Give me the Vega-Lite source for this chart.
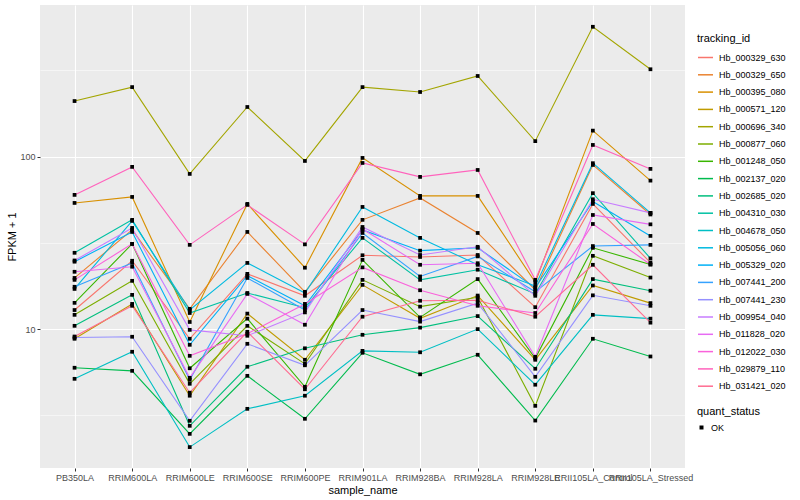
{
"$schema": "https://vega.github.io/schema/vega-lite/v6.json",
"autosize": {"type": "none"},
"padding": {"left": 40, "top": 5, "right": 115, "bottom": 32},
"width": 645,
"height": 463,
"background": "#FFFFFF",
"datasets": {"d": [
{"tracking_id":"Hb_000329_630","sample_name":"PB350LA","FPKM_plus_1":12.9,"quant_status":"OK"},
{"tracking_id":"Hb_000329_630","sample_name":"RRIM600LA","FPKM_plus_1":24.9,"quant_status":"OK"},
{"tracking_id":"Hb_000329_630","sample_name":"RRIM600LE","FPKM_plus_1":8.79,"quant_status":"OK"},
{"tracking_id":"Hb_000329_630","sample_name":"RRIM600SE","FPKM_plus_1":20.9,"quant_status":"OK"},
{"tracking_id":"Hb_000329_630","sample_name":"RRIM600PE","FPKM_plus_1":15.6,"quant_status":"OK"},
{"tracking_id":"Hb_000329_630","sample_name":"RRIM901LA","FPKM_plus_1":26.8,"quant_status":"OK"},
{"tracking_id":"Hb_000329_630","sample_name":"RRIM928BA","FPKM_plus_1":26.2,"quant_status":"OK"},
{"tracking_id":"Hb_000329_630","sample_name":"RRIM928LA","FPKM_plus_1":26.9,"quant_status":"OK"},
{"tracking_id":"Hb_000329_630","sample_name":"RRIM928LE","FPKM_plus_1":13.4,"quant_status":"OK"},
{"tracking_id":"Hb_000329_630","sample_name":"RRII105LA_Control","FPKM_plus_1":53.2,"quant_status":"OK"},
{"tracking_id":"Hb_000329_630","sample_name":"RRII105LA_Stressed","FPKM_plus_1":24.3,"quant_status":"OK"},
{"tracking_id":"Hb_000329_650","sample_name":"PB350LA","FPKM_plus_1":19.8,"quant_status":"OK"},
{"tracking_id":"Hb_000329_650","sample_name":"RRIM600LA","FPKM_plus_1":37.6,"quant_status":"OK"},
{"tracking_id":"Hb_000329_650","sample_name":"RRIM600LE","FPKM_plus_1":13.1,"quant_status":"OK"},
{"tracking_id":"Hb_000329_650","sample_name":"RRIM600SE","FPKM_plus_1":36.6,"quant_status":"OK"},
{"tracking_id":"Hb_000329_650","sample_name":"RRIM600PE","FPKM_plus_1":16.45,"quant_status":"OK"},
{"tracking_id":"Hb_000329_650","sample_name":"RRIM901LA","FPKM_plus_1":43.0,"quant_status":"OK"},
{"tracking_id":"Hb_000329_650","sample_name":"RRIM928BA","FPKM_plus_1":57.6,"quant_status":"OK"},
{"tracking_id":"Hb_000329_650","sample_name":"RRIM928LA","FPKM_plus_1":36.1,"quant_status":"OK"},
{"tracking_id":"Hb_000329_650","sample_name":"RRIM928LE","FPKM_plus_1":16.9,"quant_status":"OK"},
{"tracking_id":"Hb_000329_650","sample_name":"RRII105LA_Control","FPKM_plus_1":89.5,"quant_status":"OK"},
{"tracking_id":"Hb_000329_650","sample_name":"RRII105LA_Stressed","FPKM_plus_1":46.2,"quant_status":"OK"},
{"tracking_id":"Hb_000395_080","sample_name":"PB350LA","FPKM_plus_1":53.9,"quant_status":"OK"},
{"tracking_id":"Hb_000395_080","sample_name":"RRIM600LA","FPKM_plus_1":58.4,"quant_status":"OK"},
{"tracking_id":"Hb_000395_080","sample_name":"RRIM600LE","FPKM_plus_1":11.0,"quant_status":"OK"},
{"tracking_id":"Hb_000395_080","sample_name":"RRIM600SE","FPKM_plus_1":53.2,"quant_status":"OK"},
{"tracking_id":"Hb_000395_080","sample_name":"RRIM600PE","FPKM_plus_1":22.7,"quant_status":"OK"},
{"tracking_id":"Hb_000395_080","sample_name":"RRIM901LA","FPKM_plus_1":98.3,"quant_status":"OK"},
{"tracking_id":"Hb_000395_080","sample_name":"RRIM928BA","FPKM_plus_1":59.2,"quant_status":"OK"},
{"tracking_id":"Hb_000395_080","sample_name":"RRIM928LA","FPKM_plus_1":59.2,"quant_status":"OK"},
{"tracking_id":"Hb_000395_080","sample_name":"RRIM928LE","FPKM_plus_1":18.7,"quant_status":"OK"},
{"tracking_id":"Hb_000395_080","sample_name":"RRII105LA_Control","FPKM_plus_1":141.5,"quant_status":"OK"},
{"tracking_id":"Hb_000395_080","sample_name":"RRII105LA_Stressed","FPKM_plus_1":72.6,"quant_status":"OK"},
{"tracking_id":"Hb_000571_120","sample_name":"PB350LA","FPKM_plus_1":8.79,"quant_status":"OK"},
{"tracking_id":"Hb_000571_120","sample_name":"RRIM600LA","FPKM_plus_1":14.0,"quant_status":"OK"},
{"tracking_id":"Hb_000571_120","sample_name":"RRIM600LE","FPKM_plus_1":4.11,"quant_status":"OK"},
{"tracking_id":"Hb_000571_120","sample_name":"RRIM600SE","FPKM_plus_1":12.3,"quant_status":"OK"},
{"tracking_id":"Hb_000571_120","sample_name":"RRIM600PE","FPKM_plus_1":6.64,"quant_status":"OK"},
{"tracking_id":"Hb_000571_120","sample_name":"RRIM901LA","FPKM_plus_1":18.05,"quant_status":"OK"},
{"tracking_id":"Hb_000571_120","sample_name":"RRIM928BA","FPKM_plus_1":11.55,"quant_status":"OK"},
{"tracking_id":"Hb_000571_120","sample_name":"RRIM928LA","FPKM_plus_1":15.65,"quant_status":"OK"},
{"tracking_id":"Hb_000571_120","sample_name":"RRIM928LE","FPKM_plus_1":6.64,"quant_status":"OK"},
{"tracking_id":"Hb_000571_120","sample_name":"RRII105LA_Control","FPKM_plus_1":17.9,"quant_status":"OK"},
{"tracking_id":"Hb_000571_120","sample_name":"RRII105LA_Stressed","FPKM_plus_1":14.15,"quant_status":"OK"},
{"tracking_id":"Hb_000696_340","sample_name":"PB350LA","FPKM_plus_1":210,"quant_status":"OK"},
{"tracking_id":"Hb_000696_340","sample_name":"RRIM600LA","FPKM_plus_1":253,"quant_status":"OK"},
{"tracking_id":"Hb_000696_340","sample_name":"RRIM600LE","FPKM_plus_1":79.4,"quant_status":"OK"},
{"tracking_id":"Hb_000696_340","sample_name":"RRIM600SE","FPKM_plus_1":194,"quant_status":"OK"},
{"tracking_id":"Hb_000696_340","sample_name":"RRIM600PE","FPKM_plus_1":94.4,"quant_status":"OK"},
{"tracking_id":"Hb_000696_340","sample_name":"RRIM901LA","FPKM_plus_1":253,"quant_status":"OK"},
{"tracking_id":"Hb_000696_340","sample_name":"RRIM928BA","FPKM_plus_1":237,"quant_status":"OK"},
{"tracking_id":"Hb_000696_340","sample_name":"RRIM928LA","FPKM_plus_1":293.5,"quant_status":"OK"},
{"tracking_id":"Hb_000696_340","sample_name":"RRIM928LE","FPKM_plus_1":123,"quant_status":"OK"},
{"tracking_id":"Hb_000696_340","sample_name":"RRII105LA_Control","FPKM_plus_1":566,"quant_status":"OK"},
{"tracking_id":"Hb_000696_340","sample_name":"RRII105LA_Stressed","FPKM_plus_1":321,"quant_status":"OK"},
{"tracking_id":"Hb_000877_060","sample_name":"PB350LA","FPKM_plus_1":12.1,"quant_status":"OK"},
{"tracking_id":"Hb_000877_060","sample_name":"RRIM600LA","FPKM_plus_1":19.05,"quant_status":"OK"},
{"tracking_id":"Hb_000877_060","sample_name":"RRIM600LE","FPKM_plus_1":4.82,"quant_status":"OK"},
{"tracking_id":"Hb_000877_060","sample_name":"RRIM600SE","FPKM_plus_1":10.45,"quant_status":"OK"},
{"tracking_id":"Hb_000877_060","sample_name":"RRIM600PE","FPKM_plus_1":6.29,"quant_status":"OK"},
{"tracking_id":"Hb_000877_060","sample_name":"RRIM901LA","FPKM_plus_1":19.3,"quant_status":"OK"},
{"tracking_id":"Hb_000877_060","sample_name":"RRIM928BA","FPKM_plus_1":13.5,"quant_status":"OK"},
{"tracking_id":"Hb_000877_060","sample_name":"RRIM928LA","FPKM_plus_1":15.3,"quant_status":"OK"},
{"tracking_id":"Hb_000877_060","sample_name":"RRIM928LE","FPKM_plus_1":3.59,"quant_status":"OK"},
{"tracking_id":"Hb_000877_060","sample_name":"RRII105LA_Control","FPKM_plus_1":26.6,"quant_status":"OK"},
{"tracking_id":"Hb_000877_060","sample_name":"RRII105LA_Stressed","FPKM_plus_1":19.9,"quant_status":"OK"},
{"tracking_id":"Hb_001248_050","sample_name":"PB350LA","FPKM_plus_1":14.2,"quant_status":"OK"},
{"tracking_id":"Hb_001248_050","sample_name":"RRIM600LA","FPKM_plus_1":31.2,"quant_status":"OK"},
{"tracking_id":"Hb_001248_050","sample_name":"RRIM600LE","FPKM_plus_1":5.93,"quant_status":"OK"},
{"tracking_id":"Hb_001248_050","sample_name":"RRIM600SE","FPKM_plus_1":11.5,"quant_status":"OK"},
{"tracking_id":"Hb_001248_050","sample_name":"RRIM600PE","FPKM_plus_1":4.63,"quant_status":"OK"},
{"tracking_id":"Hb_001248_050","sample_name":"RRIM901LA","FPKM_plus_1":25.2,"quant_status":"OK"},
{"tracking_id":"Hb_001248_050","sample_name":"RRIM928BA","FPKM_plus_1":11.7,"quant_status":"OK"},
{"tracking_id":"Hb_001248_050","sample_name":"RRIM928LA","FPKM_plus_1":19.5,"quant_status":"OK"},
{"tracking_id":"Hb_001248_050","sample_name":"RRIM928LE","FPKM_plus_1":6.77,"quant_status":"OK"},
{"tracking_id":"Hb_001248_050","sample_name":"RRII105LA_Control","FPKM_plus_1":29.6,"quant_status":"OK"},
{"tracking_id":"Hb_001248_050","sample_name":"RRII105LA_Stressed","FPKM_plus_1":23.7,"quant_status":"OK"},
{"tracking_id":"Hb_002137_020","sample_name":"PB350LA","FPKM_plus_1":5.97,"quant_status":"OK"},
{"tracking_id":"Hb_002137_020","sample_name":"RRIM600LA","FPKM_plus_1":5.73,"quant_status":"OK"},
{"tracking_id":"Hb_002137_020","sample_name":"RRIM600LE","FPKM_plus_1":2.47,"quant_status":"OK"},
{"tracking_id":"Hb_002137_020","sample_name":"RRIM600SE","FPKM_plus_1":5.36,"quant_status":"OK"},
{"tracking_id":"Hb_002137_020","sample_name":"RRIM600PE","FPKM_plus_1":3.02,"quant_status":"OK"},
{"tracking_id":"Hb_002137_020","sample_name":"RRIM901LA","FPKM_plus_1":7.29,"quant_status":"OK"},
{"tracking_id":"Hb_002137_020","sample_name":"RRIM928BA","FPKM_plus_1":5.47,"quant_status":"OK"},
{"tracking_id":"Hb_002137_020","sample_name":"RRIM928LA","FPKM_plus_1":7.10,"quant_status":"OK"},
{"tracking_id":"Hb_002137_020","sample_name":"RRIM928LE","FPKM_plus_1":2.95,"quant_status":"OK"},
{"tracking_id":"Hb_002137_020","sample_name":"RRII105LA_Control","FPKM_plus_1":8.79,"quant_status":"OK"},
{"tracking_id":"Hb_002137_020","sample_name":"RRII105LA_Stressed","FPKM_plus_1":6.94,"quant_status":"OK"},
{"tracking_id":"Hb_002685_020","sample_name":"PB350LA","FPKM_plus_1":10.45,"quant_status":"OK"},
{"tracking_id":"Hb_002685_020","sample_name":"RRIM600LA","FPKM_plus_1":15.8,"quant_status":"OK"},
{"tracking_id":"Hb_002685_020","sample_name":"RRIM600LE","FPKM_plus_1":2.75,"quant_status":"OK"},
{"tracking_id":"Hb_002685_020","sample_name":"RRIM600SE","FPKM_plus_1":6.05,"quant_status":"OK"},
{"tracking_id":"Hb_002685_020","sample_name":"RRIM600PE","FPKM_plus_1":7.74,"quant_status":"OK"},
{"tracking_id":"Hb_002685_020","sample_name":"RRIM901LA","FPKM_plus_1":9.27,"quant_status":"OK"},
{"tracking_id":"Hb_002685_020","sample_name":"RRIM928BA","FPKM_plus_1":10.2,"quant_status":"OK"},
{"tracking_id":"Hb_002685_020","sample_name":"RRIM928LA","FPKM_plus_1":11.9,"quant_status":"OK"},
{"tracking_id":"Hb_002685_020","sample_name":"RRIM928LE","FPKM_plus_1":5.89,"quant_status":"OK"},
{"tracking_id":"Hb_002685_020","sample_name":"RRII105LA_Control","FPKM_plus_1":19.5,"quant_status":"OK"},
{"tracking_id":"Hb_002685_020","sample_name":"RRII105LA_Stressed","FPKM_plus_1":16.7,"quant_status":"OK"},
{"tracking_id":"Hb_004310_030","sample_name":"PB350LA","FPKM_plus_1":27.7,"quant_status":"OK"},
{"tracking_id":"Hb_004310_030","sample_name":"RRIM600LA","FPKM_plus_1":43.0,"quant_status":"OK"},
{"tracking_id":"Hb_004310_030","sample_name":"RRIM600LE","FPKM_plus_1":12.4,"quant_status":"OK"},
{"tracking_id":"Hb_004310_030","sample_name":"RRIM600SE","FPKM_plus_1":16.2,"quant_status":"OK"},
{"tracking_id":"Hb_004310_030","sample_name":"RRIM600PE","FPKM_plus_1":13.3,"quant_status":"OK"},
{"tracking_id":"Hb_004310_030","sample_name":"RRIM901LA","FPKM_plus_1":33.8,"quant_status":"OK"},
{"tracking_id":"Hb_004310_030","sample_name":"RRIM928BA","FPKM_plus_1":19.3,"quant_status":"OK"},
{"tracking_id":"Hb_004310_030","sample_name":"RRIM928LA","FPKM_plus_1":22.1,"quant_status":"OK"},
{"tracking_id":"Hb_004310_030","sample_name":"RRIM928LE","FPKM_plus_1":16.0,"quant_status":"OK"},
{"tracking_id":"Hb_004310_030","sample_name":"RRII105LA_Control","FPKM_plus_1":61.4,"quant_status":"OK"},
{"tracking_id":"Hb_004310_030","sample_name":"RRII105LA_Stressed","FPKM_plus_1":25.7,"quant_status":"OK"},
{"tracking_id":"Hb_004678_050","sample_name":"PB350LA","FPKM_plus_1":5.15,"quant_status":"OK"},
{"tracking_id":"Hb_004678_050","sample_name":"RRIM600LA","FPKM_plus_1":7.39,"quant_status":"OK"},
{"tracking_id":"Hb_004678_050","sample_name":"RRIM600LE","FPKM_plus_1":2.07,"quant_status":"OK"},
{"tracking_id":"Hb_004678_050","sample_name":"RRIM600SE","FPKM_plus_1":3.45,"quant_status":"OK"},
{"tracking_id":"Hb_004678_050","sample_name":"RRIM600PE","FPKM_plus_1":4.11,"quant_status":"OK"},
{"tracking_id":"Hb_004678_050","sample_name":"RRIM901LA","FPKM_plus_1":7.48,"quant_status":"OK"},
{"tracking_id":"Hb_004678_050","sample_name":"RRIM928BA","FPKM_plus_1":7.34,"quant_status":"OK"},
{"tracking_id":"Hb_004678_050","sample_name":"RRIM928LA","FPKM_plus_1":10.0,"quant_status":"OK"},
{"tracking_id":"Hb_004678_050","sample_name":"RRIM928LE","FPKM_plus_1":4.76,"quant_status":"OK"},
{"tracking_id":"Hb_004678_050","sample_name":"RRII105LA_Control","FPKM_plus_1":12.1,"quant_status":"OK"},
{"tracking_id":"Hb_004678_050","sample_name":"RRII105LA_Stressed","FPKM_plus_1":11.5,"quant_status":"OK"},
{"tracking_id":"Hb_005056_060","sample_name":"PB350LA","FPKM_plus_1":17.1,"quant_status":"OK"},
{"tracking_id":"Hb_005056_060","sample_name":"RRIM600LA","FPKM_plus_1":42.4,"quant_status":"OK"},
{"tracking_id":"Hb_005056_060","sample_name":"RRIM600LE","FPKM_plus_1":12.9,"quant_status":"OK"},
{"tracking_id":"Hb_005056_060","sample_name":"RRIM600SE","FPKM_plus_1":24.2,"quant_status":"OK"},
{"tracking_id":"Hb_005056_060","sample_name":"RRIM600PE","FPKM_plus_1":16.2,"quant_status":"OK"},
{"tracking_id":"Hb_005056_060","sample_name":"RRIM901LA","FPKM_plus_1":51.1,"quant_status":"OK"},
{"tracking_id":"Hb_005056_060","sample_name":"RRIM928BA","FPKM_plus_1":33.8,"quant_status":"OK"},
{"tracking_id":"Hb_005056_060","sample_name":"RRIM928LA","FPKM_plus_1":23.6,"quant_status":"OK"},
{"tracking_id":"Hb_005056_060","sample_name":"RRIM928LE","FPKM_plus_1":17.8,"quant_status":"OK"},
{"tracking_id":"Hb_005056_060","sample_name":"RRII105LA_Control","FPKM_plus_1":91.6,"quant_status":"OK"},
{"tracking_id":"Hb_005056_060","sample_name":"RRII105LA_Stressed","FPKM_plus_1":47.2,"quant_status":"OK"},
{"tracking_id":"Hb_005329_020","sample_name":"PB350LA","FPKM_plus_1":24.6,"quant_status":"OK"},
{"tracking_id":"Hb_005329_020","sample_name":"RRIM600LA","FPKM_plus_1":36.6,"quant_status":"OK"},
{"tracking_id":"Hb_005329_020","sample_name":"RRIM600LE","FPKM_plus_1":8.11,"quant_status":"OK"},
{"tracking_id":"Hb_005329_020","sample_name":"RRIM600SE","FPKM_plus_1":20.4,"quant_status":"OK"},
{"tracking_id":"Hb_005329_020","sample_name":"RRIM600PE","FPKM_plus_1":13.65,"quant_status":"OK"},
{"tracking_id":"Hb_005329_020","sample_name":"RRIM901LA","FPKM_plus_1":37.6,"quant_status":"OK"},
{"tracking_id":"Hb_005329_020","sample_name":"RRIM928BA","FPKM_plus_1":28.5,"quant_status":"OK"},
{"tracking_id":"Hb_005329_020","sample_name":"RRIM928LA","FPKM_plus_1":29.6,"quant_status":"OK"},
{"tracking_id":"Hb_005329_020","sample_name":"RRIM928LE","FPKM_plus_1":17.35,"quant_status":"OK"},
{"tracking_id":"Hb_005329_020","sample_name":"RRII105LA_Control","FPKM_plus_1":54.9,"quant_status":"OK"},
{"tracking_id":"Hb_005329_020","sample_name":"RRII105LA_Stressed","FPKM_plus_1":34.7,"quant_status":"OK"},
{"tracking_id":"Hb_007441_200","sample_name":"PB350LA","FPKM_plus_1":17.6,"quant_status":"OK"},
{"tracking_id":"Hb_007441_200","sample_name":"RRIM600LA","FPKM_plus_1":24.2,"quant_status":"OK"},
{"tracking_id":"Hb_007441_200","sample_name":"RRIM600LE","FPKM_plus_1":5.08,"quant_status":"OK"},
{"tracking_id":"Hb_007441_200","sample_name":"RRIM600SE","FPKM_plus_1":19.8,"quant_status":"OK"},
{"tracking_id":"Hb_007441_200","sample_name":"RRIM600PE","FPKM_plus_1":12.9,"quant_status":"OK"},
{"tracking_id":"Hb_007441_200","sample_name":"RRIM901LA","FPKM_plus_1":36.1,"quant_status":"OK"},
{"tracking_id":"Hb_007441_200","sample_name":"RRIM928BA","FPKM_plus_1":20.2,"quant_status":"OK"},
{"tracking_id":"Hb_007441_200","sample_name":"RRIM928LA","FPKM_plus_1":26.4,"quant_status":"OK"},
{"tracking_id":"Hb_007441_200","sample_name":"RRIM928LE","FPKM_plus_1":16.45,"quant_status":"OK"},
{"tracking_id":"Hb_007441_200","sample_name":"RRII105LA_Control","FPKM_plus_1":30.3,"quant_status":"OK"},
{"tracking_id":"Hb_007441_200","sample_name":"RRII105LA_Stressed","FPKM_plus_1":30.8,"quant_status":"OK"},
{"tracking_id":"Hb_007441_230","sample_name":"PB350LA","FPKM_plus_1":8.94,"quant_status":"OK"},
{"tracking_id":"Hb_007441_230","sample_name":"RRIM600LA","FPKM_plus_1":9.03,"quant_status":"OK"},
{"tracking_id":"Hb_007441_230","sample_name":"RRIM600LE","FPKM_plus_1":2.94,"quant_status":"OK"},
{"tracking_id":"Hb_007441_230","sample_name":"RRIM600SE","FPKM_plus_1":8.22,"quant_status":"OK"},
{"tracking_id":"Hb_007441_230","sample_name":"RRIM600PE","FPKM_plus_1":6.17,"quant_status":"OK"},
{"tracking_id":"Hb_007441_230","sample_name":"RRIM901LA","FPKM_plus_1":12.9,"quant_status":"OK"},
{"tracking_id":"Hb_007441_230","sample_name":"RRIM928BA","FPKM_plus_1":11.05,"quant_status":"OK"},
{"tracking_id":"Hb_007441_230","sample_name":"RRIM928LA","FPKM_plus_1":14.15,"quant_status":"OK"},
{"tracking_id":"Hb_007441_230","sample_name":"RRIM928LE","FPKM_plus_1":5.29,"quant_status":"OK"},
{"tracking_id":"Hb_007441_230","sample_name":"RRII105LA_Control","FPKM_plus_1":15.7,"quant_status":"OK"},
{"tracking_id":"Hb_007441_230","sample_name":"RRII105LA_Stressed","FPKM_plus_1":13.65,"quant_status":"OK"},
{"tracking_id":"Hb_009954_040","sample_name":"PB350LA","FPKM_plus_1":25.0,"quant_status":"OK"},
{"tracking_id":"Hb_009954_040","sample_name":"RRIM600LA","FPKM_plus_1":38.6,"quant_status":"OK"},
{"tracking_id":"Hb_009954_040","sample_name":"RRIM600LE","FPKM_plus_1":9.9,"quant_status":"OK"},
{"tracking_id":"Hb_009954_040","sample_name":"RRIM600SE","FPKM_plus_1":9.15,"quant_status":"OK"},
{"tracking_id":"Hb_009954_040","sample_name":"RRIM600PE","FPKM_plus_1":12.5,"quant_status":"OK"},
{"tracking_id":"Hb_009954_040","sample_name":"RRIM901LA","FPKM_plus_1":39.1,"quant_status":"OK"},
{"tracking_id":"Hb_009954_040","sample_name":"RRIM928BA","FPKM_plus_1":26.9,"quant_status":"OK"},
{"tracking_id":"Hb_009954_040","sample_name":"RRIM928LA","FPKM_plus_1":30.0,"quant_status":"OK"},
{"tracking_id":"Hb_009954_040","sample_name":"RRIM928LE","FPKM_plus_1":15.6,"quant_status":"OK"},
{"tracking_id":"Hb_009954_040","sample_name":"RRII105LA_Control","FPKM_plus_1":56.6,"quant_status":"OK"},
{"tracking_id":"Hb_009954_040","sample_name":"RRII105LA_Stressed","FPKM_plus_1":47.2,"quant_status":"OK"},
{"tracking_id":"Hb_011828_020","sample_name":"PB350LA","FPKM_plus_1":21.5,"quant_status":"OK"},
{"tracking_id":"Hb_011828_020","sample_name":"RRIM600LA","FPKM_plus_1":23.0,"quant_status":"OK"},
{"tracking_id":"Hb_011828_020","sample_name":"RRIM600LE","FPKM_plus_1":5.22,"quant_status":"OK"},
{"tracking_id":"Hb_011828_020","sample_name":"RRIM600SE","FPKM_plus_1":16.0,"quant_status":"OK"},
{"tracking_id":"Hb_011828_020","sample_name":"RRIM600PE","FPKM_plus_1":10.6,"quant_status":"OK"},
{"tracking_id":"Hb_011828_020","sample_name":"RRIM901LA","FPKM_plus_1":38.1,"quant_status":"OK"},
{"tracking_id":"Hb_011828_020","sample_name":"RRIM928BA","FPKM_plus_1":23.6,"quant_status":"OK"},
{"tracking_id":"Hb_011828_020","sample_name":"RRIM928LA","FPKM_plus_1":24.1,"quant_status":"OK"},
{"tracking_id":"Hb_011828_020","sample_name":"RRIM928LE","FPKM_plus_1":6.91,"quant_status":"OK"},
{"tracking_id":"Hb_011828_020","sample_name":"RRII105LA_Control","FPKM_plus_1":45.9,"quant_status":"OK"},
{"tracking_id":"Hb_011828_020","sample_name":"RRII105LA_Stressed","FPKM_plus_1":40.5,"quant_status":"OK"},
{"tracking_id":"Hb_012022_030","sample_name":"PB350LA","FPKM_plus_1":19.3,"quant_status":"OK"},
{"tracking_id":"Hb_012022_030","sample_name":"RRIM600LA","FPKM_plus_1":31.2,"quant_status":"OK"},
{"tracking_id":"Hb_012022_030","sample_name":"RRIM600LE","FPKM_plus_1":7.0,"quant_status":"OK"},
{"tracking_id":"Hb_012022_030","sample_name":"RRIM600SE","FPKM_plus_1":9.4,"quant_status":"OK"},
{"tracking_id":"Hb_012022_030","sample_name":"RRIM600PE","FPKM_plus_1":14.0,"quant_status":"OK"},
{"tracking_id":"Hb_012022_030","sample_name":"RRIM901LA","FPKM_plus_1":22.8,"quant_status":"OK"},
{"tracking_id":"Hb_012022_030","sample_name":"RRIM928BA","FPKM_plus_1":16.8,"quant_status":"OK"},
{"tracking_id":"Hb_012022_030","sample_name":"RRIM928LA","FPKM_plus_1":13.65,"quant_status":"OK"},
{"tracking_id":"Hb_012022_030","sample_name":"RRIM928LE","FPKM_plus_1":12.4,"quant_status":"OK"},
{"tracking_id":"Hb_012022_030","sample_name":"RRII105LA_Control","FPKM_plus_1":40.7,"quant_status":"OK"},
{"tracking_id":"Hb_012022_030","sample_name":"RRII105LA_Stressed","FPKM_plus_1":23.7,"quant_status":"OK"},
{"tracking_id":"Hb_029879_110","sample_name":"PB350LA","FPKM_plus_1":60.0,"quant_status":"OK"},
{"tracking_id":"Hb_029879_110","sample_name":"RRIM600LA","FPKM_plus_1":87.2,"quant_status":"OK"},
{"tracking_id":"Hb_029879_110","sample_name":"RRIM600LE","FPKM_plus_1":30.8,"quant_status":"OK"},
{"tracking_id":"Hb_029879_110","sample_name":"RRIM600SE","FPKM_plus_1":52.5,"quant_status":"OK"},
{"tracking_id":"Hb_029879_110","sample_name":"RRIM600PE","FPKM_plus_1":31.0,"quant_status":"OK"},
{"tracking_id":"Hb_029879_110","sample_name":"RRIM901LA","FPKM_plus_1":91.9,"quant_status":"OK"},
{"tracking_id":"Hb_029879_110","sample_name":"RRIM928BA","FPKM_plus_1":76.3,"quant_status":"OK"},
{"tracking_id":"Hb_029879_110","sample_name":"RRIM928LA","FPKM_plus_1":83.7,"quant_status":"OK"},
{"tracking_id":"Hb_029879_110","sample_name":"RRIM928LE","FPKM_plus_1":19.3,"quant_status":"OK"},
{"tracking_id":"Hb_029879_110","sample_name":"RRII105LA_Control","FPKM_plus_1":116.9,"quant_status":"OK"},
{"tracking_id":"Hb_029879_110","sample_name":"RRII105LA_Stressed","FPKM_plus_1":84.9,"quant_status":"OK"},
{"tracking_id":"Hb_031421_020","sample_name":"PB350LA","FPKM_plus_1":9.06,"quant_status":"OK"},
{"tracking_id":"Hb_031421_020","sample_name":"RRIM600LA","FPKM_plus_1":13.65,"quant_status":"OK"},
{"tracking_id":"Hb_031421_020","sample_name":"RRIM600LE","FPKM_plus_1":4.28,"quant_status":"OK"},
{"tracking_id":"Hb_031421_020","sample_name":"RRIM600SE","FPKM_plus_1":9.65,"quant_status":"OK"},
{"tracking_id":"Hb_031421_020","sample_name":"RRIM600PE","FPKM_plus_1":4.48,"quant_status":"OK"},
{"tracking_id":"Hb_031421_020","sample_name":"RRIM901LA","FPKM_plus_1":11.8,"quant_status":"OK"},
{"tracking_id":"Hb_031421_020","sample_name":"RRIM928BA","FPKM_plus_1":14.6,"quant_status":"OK"},
{"tracking_id":"Hb_031421_020","sample_name":"RRIM928LA","FPKM_plus_1":14.7,"quant_status":"OK"},
{"tracking_id":"Hb_031421_020","sample_name":"RRIM928LE","FPKM_plus_1":11.8,"quant_status":"OK"},
{"tracking_id":"Hb_031421_020","sample_name":"RRII105LA_Control","FPKM_plus_1":23.6,"quant_status":"OK"},
{"tracking_id":"Hb_031421_020","sample_name":"RRII105LA_Stressed","FPKM_plus_1":10.9,"quant_status":"OK"}
]},
"data": {"name": "d"},
"encoding": {
  "x": {"field": "sample_name", "type": "nominal",
    "sort": ["PB350LA","RRIM600LA","RRIM600LE","RRIM600SE","RRIM600PE","RRIM901LA","RRIM928BA","RRIM928LA","RRIM928LE","RRII105LA_Control","RRII105LA_Stressed"],
    "scale": {"type": "point", "padding": 0.6},
    "axis": {"title": "sample_name", "labelAngle": 0, "grid": true, "gridWidth": 1.1, "titlePadding": 2}},
  "y": {"field": "FPKM_plus_1", "type": "quantitative",
    "scale": {"type": "log", "domain": [1.566, 757], "nice": false, "zero": false},
    "axis": {"title": "FPKM + 1", "values": [3.16227766, 10, 31.6227766, 100, 316.227766],
      "labelExpr": "datum.value == 10 ? '10' : (datum.value == 100 ? '100' : '')",
      "gridWidth": {"condition": {"test": "datum.value == 10 || datum.value == 100", "value": 1.1}, "value": 0.5},
      "tickOpacity": {"condition": {"test": "datum.value == 10 || datum.value == 100", "value": 1}, "value": 0},
      "titlePadding": 2}}
},
"layer": [
  {"mark": {"type": "line", "strokeWidth": 1.1},
   "encoding": {
     "color": {"field": "tracking_id", "type": "nominal", "title": "tracking_id",
       "scale": {"domain": ["Hb_000329_630","Hb_000329_650","Hb_000395_080","Hb_000571_120","Hb_000696_340","Hb_000877_060","Hb_001248_050","Hb_002137_020","Hb_002685_020","Hb_004310_030","Hb_004678_050","Hb_005056_060","Hb_005329_020","Hb_007441_200","Hb_007441_230","Hb_009954_040","Hb_011828_020","Hb_012022_030","Hb_029879_110","Hb_031421_020"],
         "range": ["#F8766D","#EA8331","#D89000","#C09B00","#A3A500","#7CAE00","#39B600","#00BB4E","#00BF7D","#00C1A3","#00BFC4","#00BAE0","#00B0F6","#35A2FF","#9590FF","#C77CFF","#E76BF3","#FA62DB","#FF62BC","#FF6C91"]},
       "legend": {"orient": "none", "legendX": 657, "legendY": 28, "symbolType": "stroke", "symbolSize": 225, "symbolStrokeWidth": 1.5, "rowPadding": 3.3, "titlePadding": 5}}
   }},
  {"mark": {"type": "point", "filled": true, "opacity": 1, "size": 14, "color": "#000000"},
   "encoding": {
     "shape": {"field": "quant_status", "type": "nominal", "title": "quant_status",
       "scale": {"range": ["square"]},
       "legend": {"orient": "none", "legendX": 657, "legendY": 401, "symbolSize": 16, "symbolFillColor": "#000000", "symbolStrokeColor": "#000000", "titlePadding": 6}}
   }}
],
"config": {
  "font": "Liberation Sans",
  "view": {"fill": "#EBEBEB", "stroke": null},
  "axis": {"domain": false, "labelColor": "#4D4D4D", "labelFontSize": 9, "labelFont": "Liberation Sans", "tickColor": "#333333", "tickSize": 3, "titleFontSize": 11, "titleFontWeight": "normal", "titleColor": "#000000", "gridColor": "#FFFFFF", "labelPadding": 2},
  "legend": {"titleFontSize": 11, "titleFontWeight": "normal", "titleColor": "#000000", "labelFontSize": 9, "labelColor": "#000000", "labelOffset": 5}
}
}
